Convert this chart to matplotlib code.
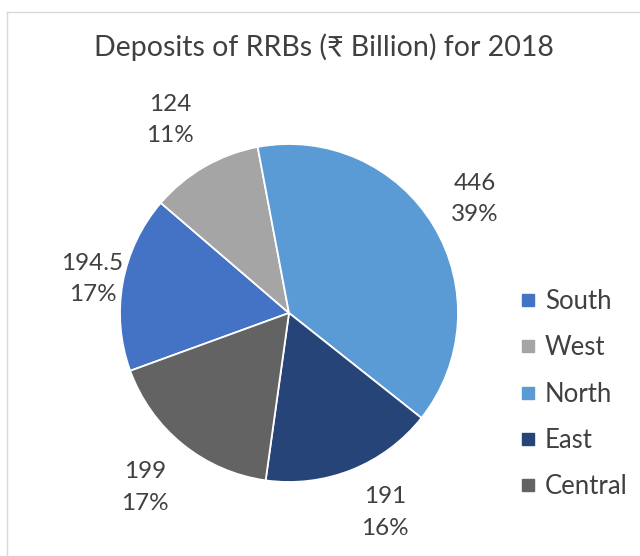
import numpy as np
import matplotlib.pyplot as plt
from matplotlib.lines import Line2D

plt.rcParams['font.family'] = ['Lato', 'Noto Sans', 'DejaVu Sans']

# data
regions = ['South', 'West', 'North', 'East', 'Central']
deposits = [194.5, 124, 446, 191, 199]
pct_labels = ['17%', '11%', '39%', '16%', '17%']
colors = ['#4472C4', '#A5A5A5', '#5B9BD5', '#264478', '#636363']

# label placement (distance from centre in radii, angle nudge in degrees)
label_dist = [1.18, 1.34, 1.29, 1.31, 1.34]
label_nudge = [0.5, 1.6, 0.4, 3.9, -0.6]

fig = plt.figure(figsize=(6.4, 5.56), dpi=100)
ax = fig.add_axes([(289 - 169) / 640, (556 - 313 - 169) / 556, 338 / 640, 338 / 556])

wedges, texts = ax.pie(deposits, colors=colors, startangle=200, counterclock=False,
                       radius=1, labels=[f'{v:g}\n{p}' for v, p in zip(deposits, pct_labels)],
                       wedgeprops=dict(edgecolor='white', linewidth=1.3),
                       textprops=dict(fontsize=17.5, color='#404040', linespacing=1.6))
ax.set_xlim(-1, 1)
ax.set_ylim(-1, 1)

for w, t, d, n in zip(wedges, texts, label_dist, label_nudge):
    mid = np.deg2rad((w.theta1 + w.theta2) / 2 + n)
    t.set_position((d * np.cos(mid), d * np.sin(mid)))
    t.set_ha('center')
    t.set_va('center')

fig.text(0.506, 0.9155, 'Deposits of RRBs (\u20b9 Billion) for 2018', ha='center', va='center',
         fontsize=20.5, color='#404040')

handles = [Line2D([0], [0], marker='s', color='w', markerfacecolor=c, markeredgecolor=c,
                  markersize=9, linestyle='') for c in colors]
fig.legend(handles, regions, loc='center left', bbox_to_anchor=(0.769, 0.291), frameon=False,
           fontsize=18.5, labelspacing=0.83, handletextpad=0.15, handlelength=1.0,
           labelcolor='#404040')

# chart border (left and top edges visible)
fig.add_artist(Line2D([7 / 640, 7 / 640], [0, 1 - 12 / 556], color='#d9d9d9', lw=1))
fig.add_artist(Line2D([7 / 640, 1], [1 - 12 / 556, 1 - 12 / 556], color='#d9d9d9', lw=1))

fig.savefig('out.png', dpi=100)
